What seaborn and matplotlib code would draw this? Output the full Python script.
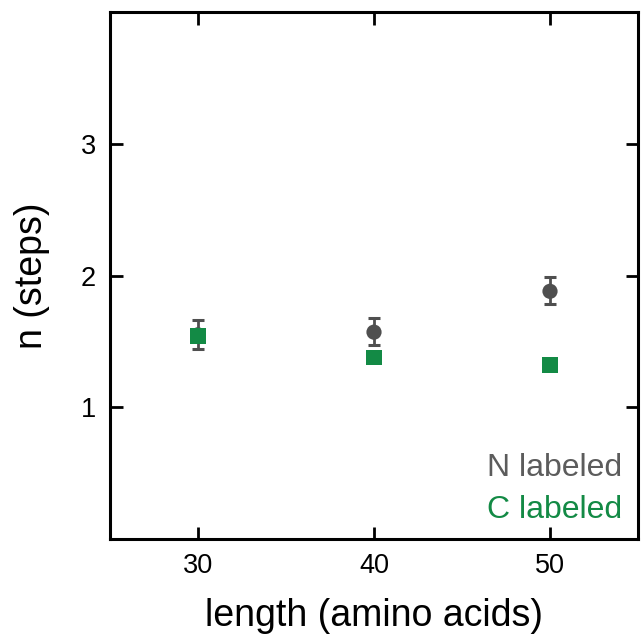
import matplotlib
matplotlib.use("Agg")
import matplotlib.pyplot as plt
import seaborn as sns
import pandas as pd

length = [30, 40, 50]
n_labeled = [1.55, 1.57, 1.88]
n_err_lo = [0.11, 0.10, 0.10]
n_err_hi = [0.11, 0.11, 0.11]
c_labeled = [1.54, 1.38, 1.32]
c_err = [0.03, 0.02, 0.02]
xticks = [30, 40, 50]
yticks = [1, 2, 3]

sns.set_theme(style="white")
plt.rcParams['font.family'] = ['Liberation Sans', 'DejaVu Sans']

GRAY = '#4f4f4f'
GRAYTXT = '#5c5c5c'
GREEN = '#138a45'

fig = plt.figure(figsize=(6.42, 6.39), dpi=100)
ax = fig.add_axes([110/642, 1-539/639, 528/642, 527/639])

df = pd.DataFrame({'length': length + length,
                   'n': n_labeled + c_labeled,
                   'label': ['N labeled']*3 + ['C labeled']*3})

ax.errorbar(length, n_labeled, yerr=[n_err_lo, n_err_hi], fmt='none',
            ecolor=GRAY, elinewidth=2.0, capsize=4, capthick=2.2, zorder=2)
ax.errorbar(length, c_labeled, yerr=c_err, fmt='none',
            ecolor=GREEN, elinewidth=2.0, capsize=3, capthick=2.0, zorder=2)
sns.scatterplot(data=df, x='length', y='n', hue='label', style='label',
                palette={'N labeled': GRAY, 'C labeled': GREEN},
                markers={'N labeled': 'o', 'C labeled': 's'},
                s=120, linewidth=0, legend=False, ax=ax, zorder=3)

ax.set_xlim(25, 55)
ax.set_ylim(0, 4)
ax.set_xticks(xticks)
ax.set_yticks(yticks)
ax.tick_params(direction='in', length=9, width=2, top=True, right=True,
               labelsize=19.5, color='black', labelcolor='black', pad=10,
               bottom=True, left=True)
for sp in ax.spines.values():
    sp.set_color('black')
    sp.set_linewidth(2.2)

ax.set_xlabel('length (amino acids)', fontsize=27, color='black', labelpad=14)
ax.set_ylabel('n (steps)', fontsize=27, color='black', labelpad=22)

ax.text(0.970, 0.1195, 'N labeled', transform=ax.transAxes, ha='right',
        va='baseline', fontsize=23, color=GRAYTXT)
ax.text(0.970, 0.040, 'C labeled', transform=ax.transAxes, ha='right',
        va='baseline', fontsize=23, color=GREEN)

fig.savefig('out.png', dpi=100)
